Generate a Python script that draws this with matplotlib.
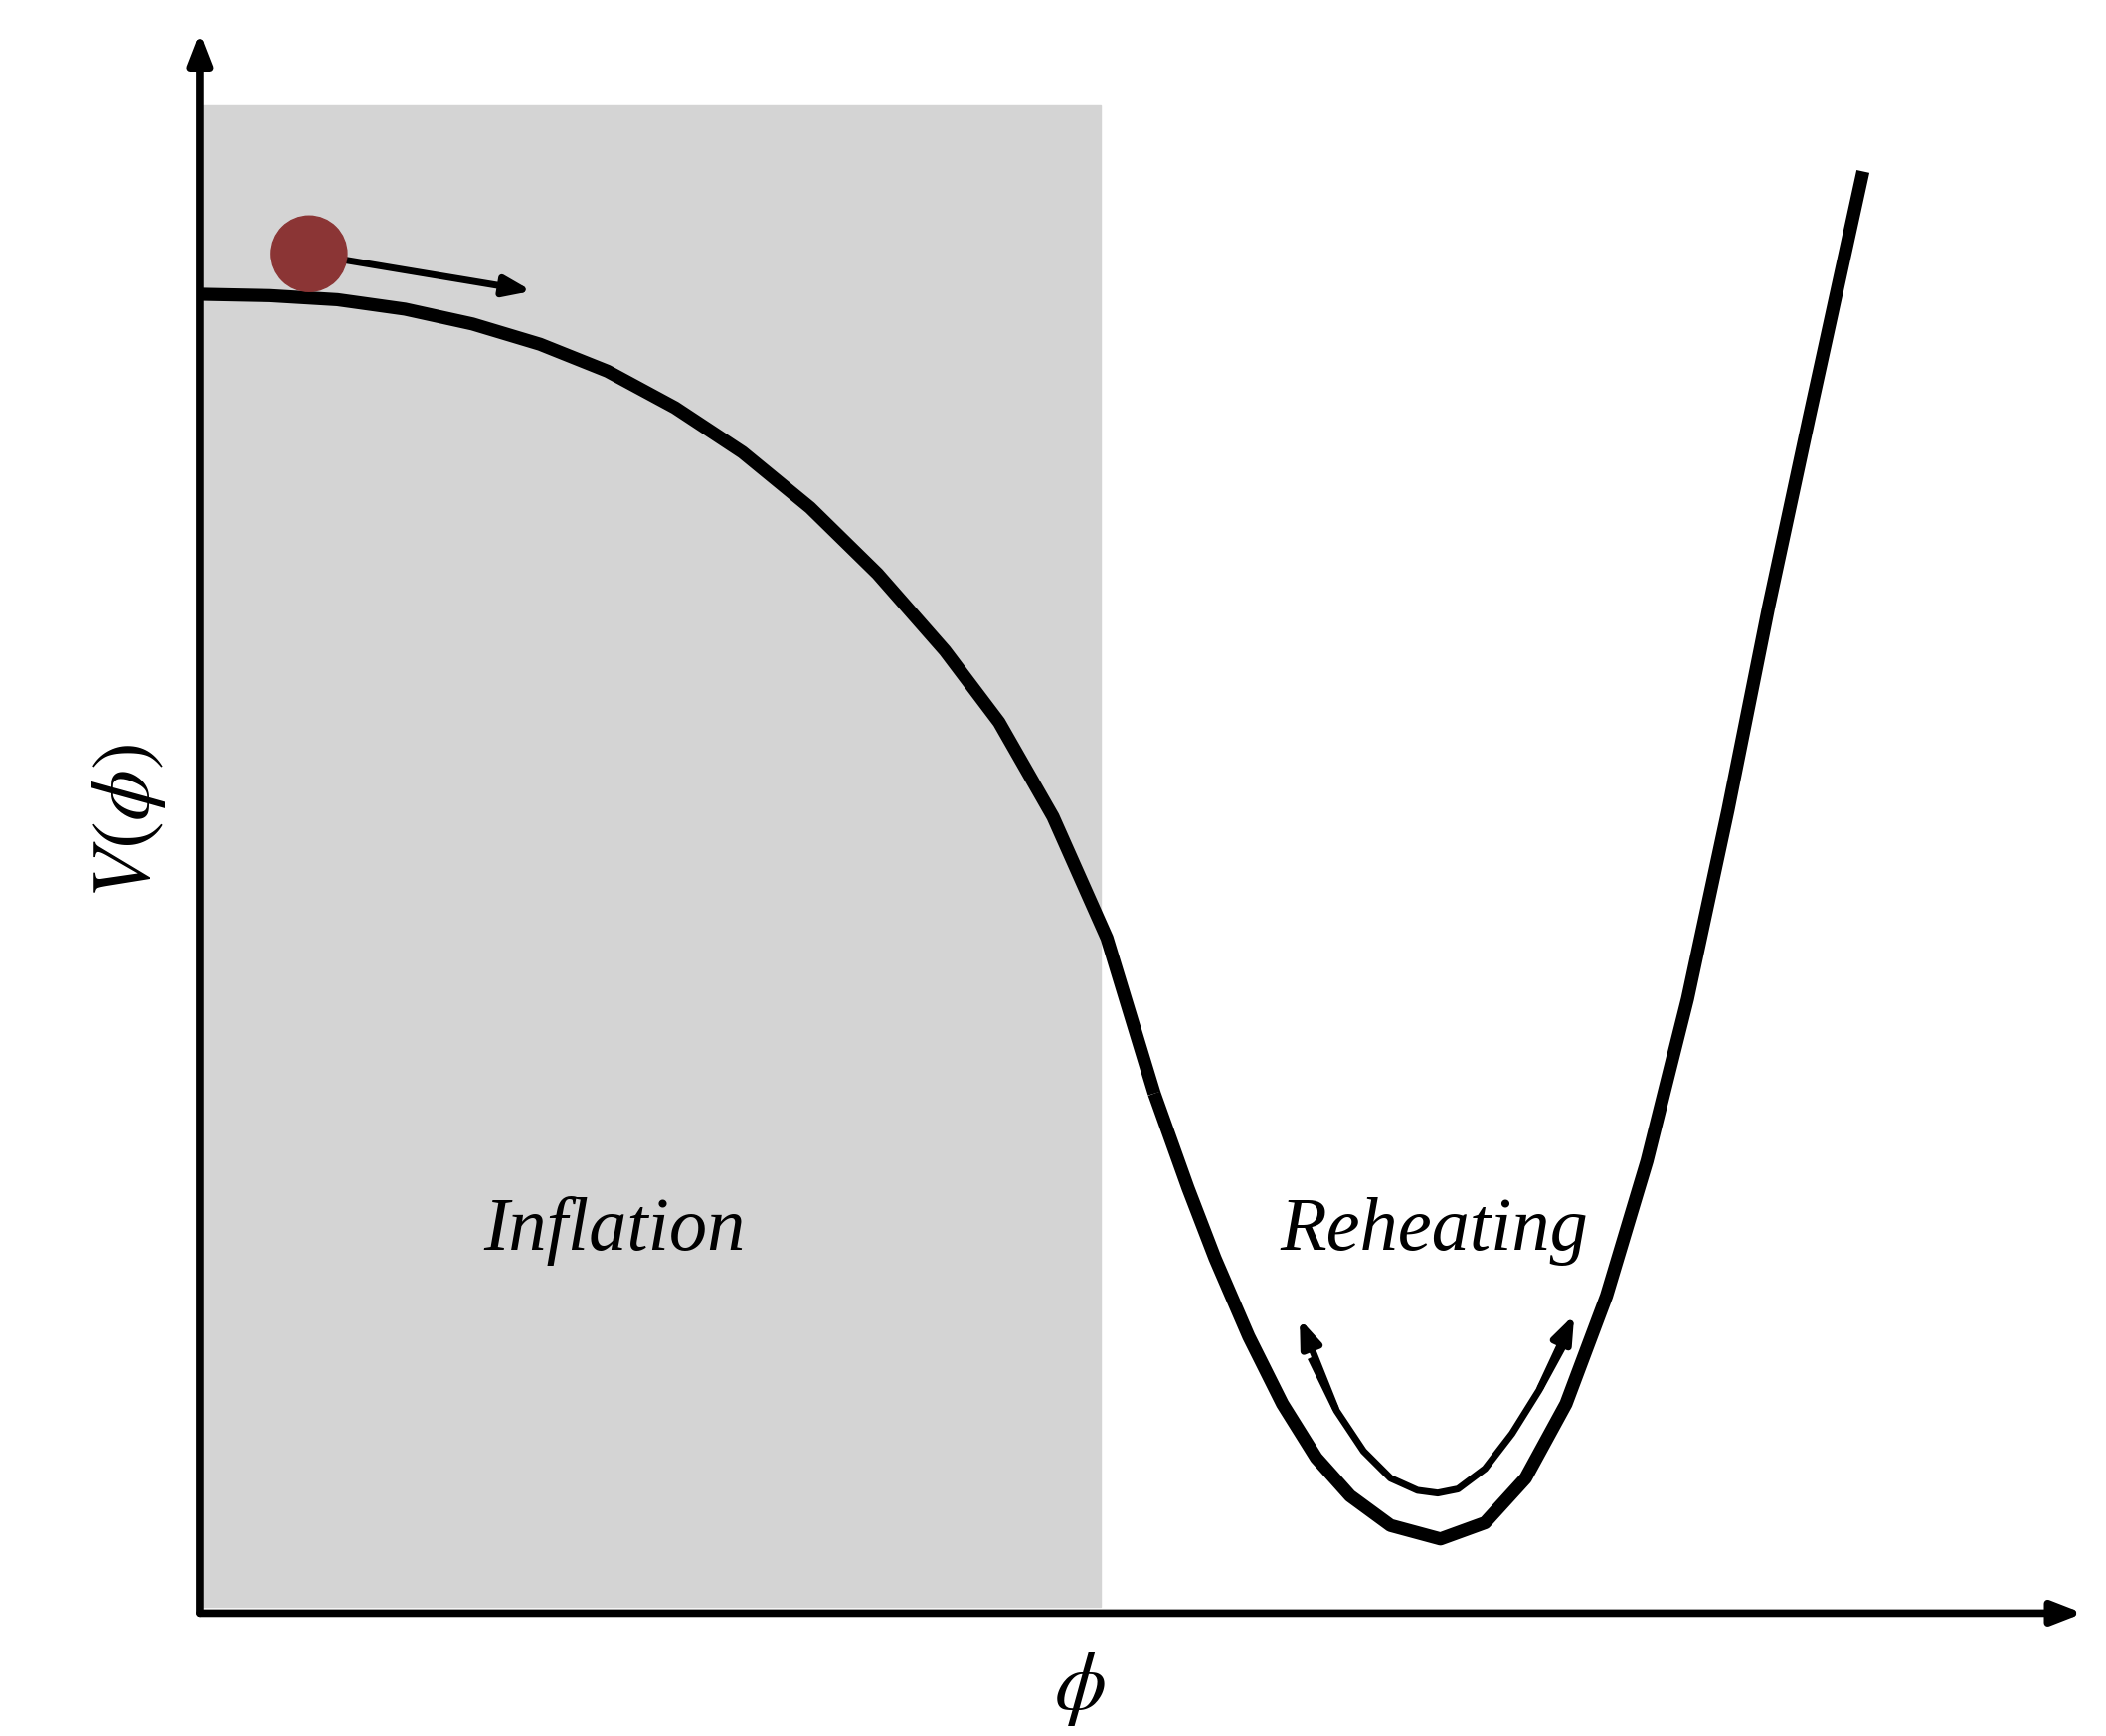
import numpy as np
import matplotlib
matplotlib.use("Agg")
import matplotlib.pyplot as plt
from matplotlib.patches import Rectangle, Circle

plt.rcParams['mathtext.fontset'] = 'stix'

# potential curve (x, y in picture units, y down)
infl_x = [150, 200, 250, 300, 350, 400, 450, 500, 550, 600, 650, 700, 740, 780, 820, 855]
infl_y = [218, 219, 222, 229, 240, 255, 275, 302, 335, 376, 425, 482, 535, 605, 695, 810]
well_x = [855, 880, 900, 925, 950, 975, 1000, 1030, 1067, 1100, 1130, 1160, 1190, 1220, 1250, 1280, 1310, 1340, 1380]
well_y = [810, 880, 932, 990, 1040, 1080, 1108, 1130, 1140, 1128, 1095, 1040, 960, 860, 740, 600, 450, 310, 127]
osc_x = [972, 990, 1010, 1030, 1050, 1065, 1080, 1100, 1120, 1140, 1158]
osc_y = [1008, 1045, 1075, 1095, 1104, 1106, 1103, 1088, 1062, 1030, 997]

fig = plt.figure(figsize=(21.18, 17.46), dpi=100)
ax = fig.add_axes([0, 0, 1, 1])
ax.set_xlim(0, 1560)
ax.set_ylim(1286, 0)
ax.axis('off')

ax.add_patch(Rectangle((150, 78), 665, 1112, color='#d4d4d4', zorder=0))

# axes with arrows
ax.annotate('', xy=(1545, 1195), xytext=(146, 1195),
            arrowprops=dict(arrowstyle='-|>,head_length=1.8,head_width=0.7', lw=5.5, color='black'))
ax.annotate('', xy=(148, 22), xytext=(148, 1197),
            arrowprops=dict(arrowstyle='-|>,head_length=1.8,head_width=0.7', lw=5.5, color='black'))

ax.plot(infl_x, infl_y, color='black', lw=9.5, solid_capstyle='butt', zorder=3)
ax.plot(well_x, well_y, color='black', lw=9.5, solid_capstyle='butt', zorder=3)

# oscillation arrow
ax.plot(osc_x, osc_y, color='black', lw=5, zorder=3)
for (x0, y0), (x1, y1) in [((osc_x[1], osc_y[1]), (962, 975)), ((osc_x[-2], osc_y[-2]), (1167, 972))]:
    ax.annotate('', xy=(x1, y1), xytext=(x0, y0),
                arrowprops=dict(arrowstyle='-|>,head_length=1.6,head_width=0.6', lw=5, color='black'))

# ball and arrow
ax.annotate('', xy=(396, 216), xytext=(240, 190),
            arrowprops=dict(arrowstyle='-|>,head_length=1.6,head_width=0.6', lw=5, color='black'))
ax.add_patch(Circle((229, 188), 28, color='#8b3535', zorder=5))

ax.text(455, 912, 'Inflation', family='Liberation Serif', style='italic', fontsize=55,
        ha='center', va='center')
ax.text(1062, 912, 'Reheating', family='Liberation Serif', style='italic', fontsize=55,
        ha='center', va='center')
ax.text(800, 1250, r'$\phi$', fontsize=60, ha='center', va='center')
ax.text(95, 608, r'$V(\phi)$', fontsize=60, ha='center', va='center', rotation=90)

fig.savefig('out.png', dpi=100)
